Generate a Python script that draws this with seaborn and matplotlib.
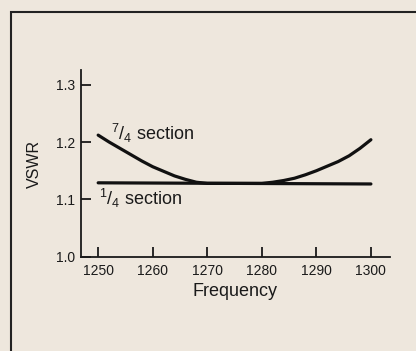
import numpy as np
import pandas as pd
import seaborn as sns
import matplotlib.pyplot as plt
from matplotlib.patches import Rectangle

# values
freq_74 = [1250, 1252, 1254, 1256, 1258, 1260, 1262, 1264, 1266, 1268, 1270, 1275,
           1280, 1282, 1284, 1286, 1288, 1290, 1292, 1294, 1296, 1298, 1300]
vswr_74 = [1.212, 1.200, 1.189, 1.178, 1.167, 1.157, 1.149, 1.141, 1.135, 1.130, 1.128, 1.128,
           1.128, 1.130, 1.133, 1.137, 1.143, 1.150, 1.158, 1.166, 1.176, 1.189, 1.204]
freq_14 = [1250, 1300]
vswr_14 = [1.129, 1.127]
xticks = [1250, 1260, 1270, 1280, 1290, 1300]
yticks = [1.0, 1.1, 1.2, 1.3]

bg = '#eee7dd'
sns.set_theme(style='ticks')
plt.rcParams['font.family'] = ['Liberation Sans', 'DejaVu Sans']
plt.rcParams['mathtext.fontset'] = 'custom'
plt.rcParams['mathtext.rm'] = 'Liberation Sans'

fig = plt.figure(figsize=(4.16, 3.51), dpi=100, facecolor=bg)
ax = fig.add_axes([0.194, 0.268, 0.9375 - 0.194, 0.80 - 0.268])
ax.set_facecolor(bg)

sns.lineplot(x=freq_74, y=vswr_74, color='#111111', lw=2.3, ax=ax)
sns.lineplot(x=freq_14, y=vswr_14, color='#111111', lw=2.3, ax=ax)

ax.set_xlim(1246.8, 1303.5)
ax.set_ylim(1.0, 1.325)
ax.set_xticks(xticks)
ax.set_yticks(yticks)
ax.set_xticklabels([str(v) for v in xticks])
ax.set_yticklabels([f'{v:.1f}' for v in yticks])
ax.tick_params(direction='in', length=7, width=1.3, colors='#1a1a1a', labelsize=10)
ax.tick_params(axis='y', pad=4)
ax.tick_params(axis='x', pad=5)
for s in ['top', 'right']:
    ax.spines[s].set_visible(False)
for s in ['left', 'bottom']:
    ax.spines[s].set_linewidth(1.3)
    ax.spines[s].set_color('#1a1a1a')

ax.set_xlabel('Frequency', fontsize=13, color='#1a1a1a', labelpad=4)
ax.set_ylabel('VSWR', fontsize=11.5, color='#1a1a1a', labelpad=10)

ax.text(1252.3, 1.203, r'$^{7}$/$_{4}$ section', fontsize=13, color='#1a1a1a')
ax.text(1250.2, 1.091, r'$^{1}$/$_{4}$ section', fontsize=13, color='#1a1a1a')

# outer frame of the scanned figure
fig.patches.append(Rectangle((11.0 / 416, -0.1), 2.0, 1 - 11.5 / 351 + 0.1,
                             transform=fig.transFigure, fill=False,
                             edgecolor='#222222', lw=1.5))

fig.savefig('out.png', dpi=100, facecolor=bg)
